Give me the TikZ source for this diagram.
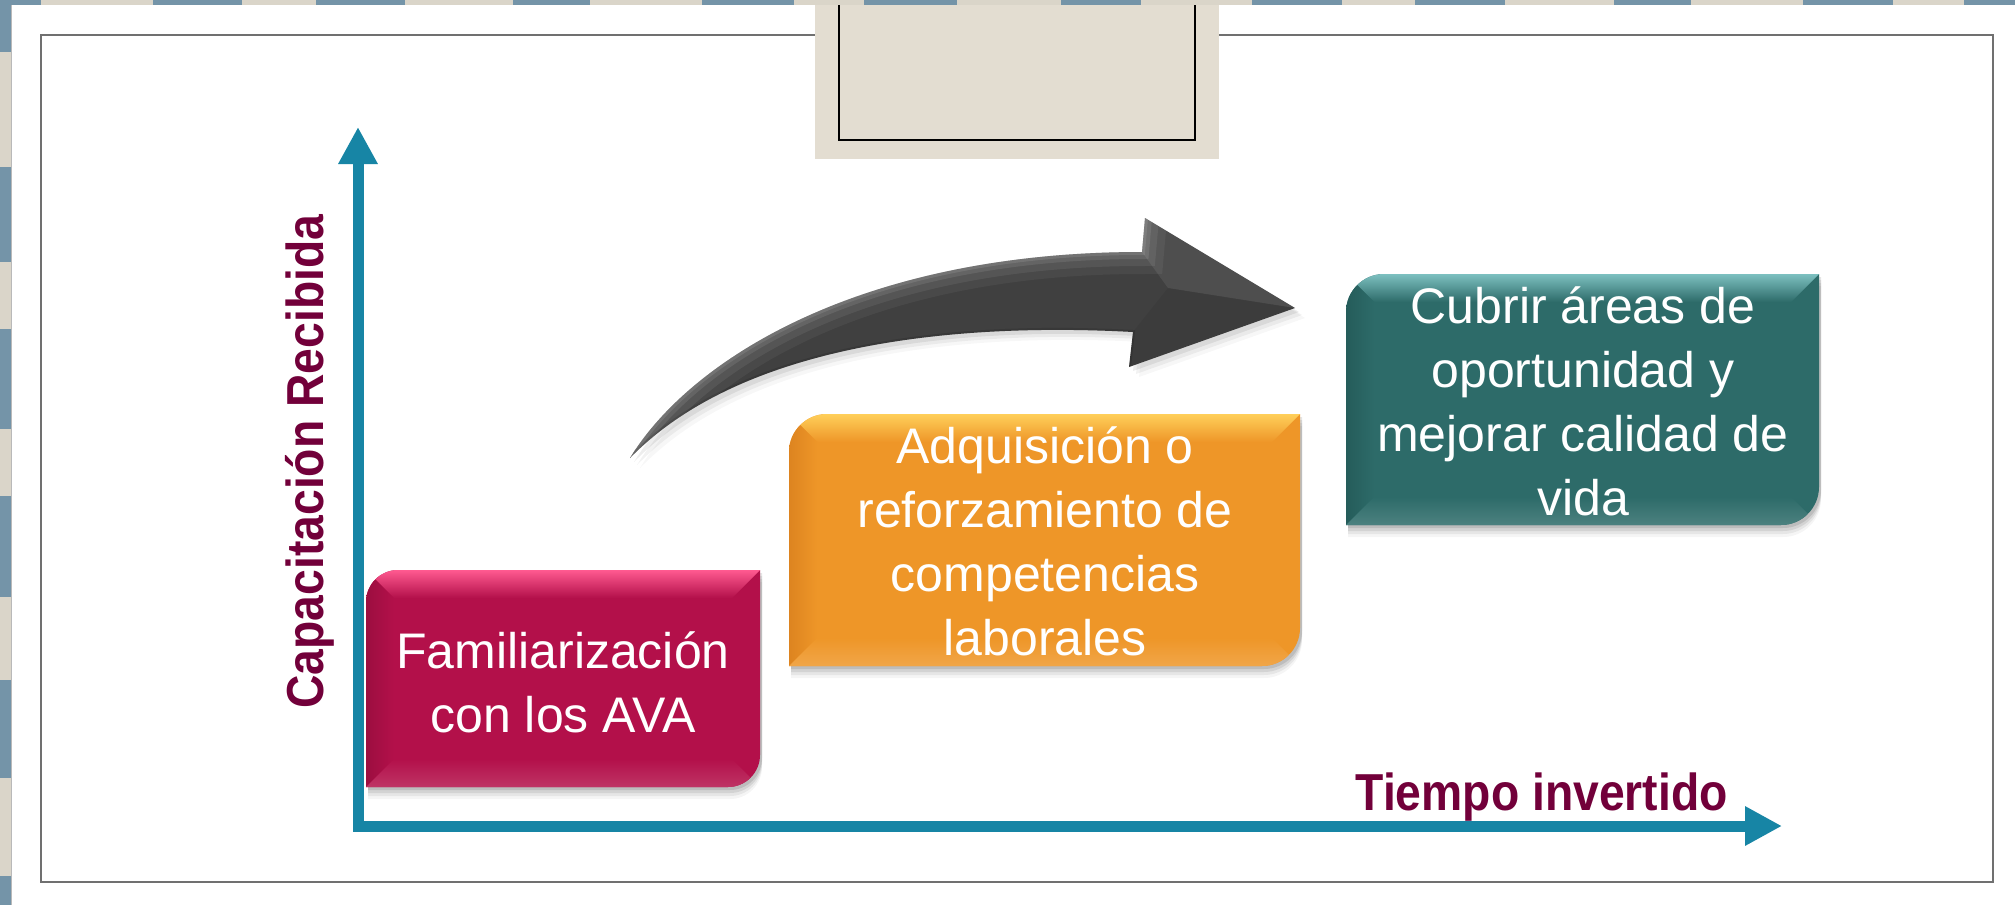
\documentclass[tikz,border=0pt]{standalone}
\usepackage{fontspec}
\setmainfont{Liberation Sans}
\newfontfamily\axisfont{Liberation Sans Bold}[FakeStretch=0.89]
\usetikzlibrary{arrows.meta}
\definecolor{axisblue}{HTML}{1785A5}
\definecolor{labelred}{HTML}{72003A}
\definecolor{framegray}{HTML}{707070}
\definecolor{stripbeige}{HTML}{DAD5C9}
\definecolor{stripblue}{HTML}{7494A8}
\definecolor{topbeige}{HTML}{E3DDD1}
\definecolor{pinkmain}{HTML}{B3104A}
\definecolor{pinklight}{HTML}{FF5A90}
\definecolor{pinkdark}{HTML}{9C0E40}
\definecolor{orangemain}{HTML}{EE9628}
\definecolor{orangelight}{HTML}{FFCF5A}
\definecolor{orangedark}{HTML}{DD8420}
\definecolor{tealmain}{HTML}{2D6B69}
\definecolor{teallight}{HTML}{7DC0C0}
\definecolor{tealdark}{HTML}{255C5A}
\definecolor{arrowdark}{HTML}{404040}
\newcommand\snippath[5]{(#1,#2+#5) .. controls (#1,#2+0.448*#5) and (#1+0.448*#5,#2) .. (#1+#5,#2) -- (#3,#2) -- (#3,#4-#5) .. controls (#3,#4-0.448*#5) and (#3-0.448*#5,#4) .. (#3-#5,#4) -- (#1,#4) -- cycle}
\newcommand\bevelbox[8]{%
  \foreach \o/\op in {12/0.04,9/0.06,6/0.08,3/0.1}{\fill[black,opacity=\op,shift={(2,\o)}] \snippath{#1}{#2}{#3}{#4}{#5};}
  \fill[#6] \snippath{#1}{#2}{#3}{#4}{#5};
  \begin{scope}
    \clip \snippath{#1}{#2}{#3}{#4}{#5};
    \shade[top color=#7, bottom color=#6] (#1,#2) -- (#3,#2) -- (#3-28,#2+28) -- (#1+28,#2+28) -- cycle;
    \shade[left color=#8, right color=#6] (#1,#2) -- (#1+28,#2+28) -- (#1+28,#4-28) -- (#1,#4) -- cycle;
    \shade[top color=#6, bottom color=#6!85!white] (#1,#4) -- (#1+28,#4-28) -- (#3-28,#4-28) -- (#3,#4) -- cycle;
  \end{scope}}
\newcommand\curvedarrow{(630,458) .. controls (690,360) and (860,252) .. (1142,252) -- (1145,218) -- (1295,308) -- (1129,367) -- (1133,332) .. controls (950,322) and (740,345) .. (630,458) -- cycle}
\tikzset{
  boxtext/.style={text=white, inner sep=0pt, anchor=base, font=\fontsize{25pt}{32pt}\selectfont},
  axislabel/.style={text=labelred, inner sep=0pt, font=\axisfont\fontsize{26pt}{30pt}\selectfont},
  axisline/.style={axisblue, line width=5.5pt, line join=miter,
    {Triangle[length=18.5pt,width=18.5pt]}-{Triangle[length=18.5pt,width=18.5pt]}}
}
\begin{document}
\begin{tikzpicture}[x=0.5pt, y=-0.5pt]
\useasboundingbox (0,0) rectangle (2015,905);
\fill[white] (0,0) rectangle (2015,905);
% left patterned strip
\fill[stripbeige] (0,0) rectangle (12,905);
\foreach \a/\b in {0/52,167/262,329/429,496/597,680/778,876/905}
  \fill[stripblue] (0,\a) rectangle (11,\b);
\fill[gray!55] (10.5,5) rectangle (12,905);
% frame
\draw[framegray, line width=1pt] (41,35) rectangle (1993,882);
% beige tab at top
\fill[topbeige] (815,0) rectangle (1219,159);
\draw[black, line width=0.8pt] (839,0) -- (839,140) -- (1195,140) -- (1195,0);
% top patterned strip
\fill[stripbeige] (0,0) rectangle (2015,5);
\foreach \a/\b in {0/41,153/242,316/405,513/590,702/794,864/957,1061/1141,1252/1342,1415/1505,1614/1691,1803/1893,1964/2015}
  \fill[stripblue] (\a,0) rectangle (\b,4.5);
% axes
\coordinate (O) at (358,826);
\coordinate (ytip) at (358,127);
\coordinate (xtip) at (1782,826);
\draw[axisline] (ytip) -- (O) -- (xtip);
\node[axislabel, anchor=base east] (tiempo) at (1728,810) {Tiempo invertido};
\node[axislabel, rotate=90, anchor=base west] (capac) at (323,709) {Capacitación Recibida};
% curved arrow
\foreach \o/\op in {10/0.03,7/0.05,4/0.07}{\fill[black,opacity=\op,shift={(\o,\o)}] \curvedarrow;}
\fill[arrowdark] \curvedarrow;
\begin{scope}
  \clip \curvedarrow;
  \foreach \w/\op in {22/0.05,14/0.07,7/0.09,3/0.1}
    \draw[white, opacity=\op, line width=\w] (630,458) .. controls (690,360) and (860,252) .. (1142,252) -- (1145,218);
  \fill[white, opacity=0.08] (1145,218) -- (1295,308) -- (1168,288) -- (1142,252) -- cycle;
  \fill[black, opacity=0.06] (1168,288) -- (1295,308) -- (1129,367) -- (1133,332) -- cycle;
  \draw[black, opacity=0.12, line width=2] (630,458) .. controls (740,345) and (950,322) .. (1133,332) -- (1129,367);
\end{scope}
% boxes
\bevelbox{366}{570}{760}{787}{32}{pinkmain}{pinklight}{pinkdark}
\bevelbox{789}{414}{1300}{666}{38}{orangemain}{orangelight}{orangedark}
\bevelbox{1346}{274}{1819}{525}{38}{tealmain}{teallight}{tealdark}
\node[boxtext] (fam) at (563,668) {\begin{tabular}[t]{@{}c@{}}Familiarización\\con los AVA\end{tabular}};
\node[boxtext] (adq) at (1045,463) {\begin{tabular}[t]{@{}c@{}}Adquisición o\\reforzamiento de\\competencias\\laborales\end{tabular}};
\node[boxtext] (cub) at (1583,323) {\begin{tabular}[t]{@{}c@{}}Cubrir áreas de\\oportunidad y\\mejorar calidad de\\vida\end{tabular}};
\end{tikzpicture}
\end{document}
